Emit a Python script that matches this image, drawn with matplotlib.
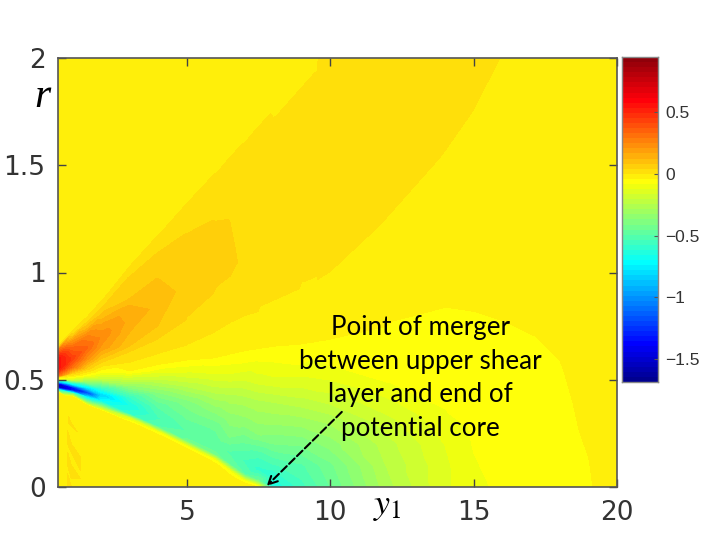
import numpy as np
import matplotlib
matplotlib.use("Agg")
import matplotlib.pyplot as plt
import matplotlib.tri as mtri
from matplotlib.colors import ListedColormap

plt.rcParams['mathtext.fontset'] = 'stix'

# field, one profile per y1 station
y1_stations = [0.5, 0.78, 0.92, 1, 1.5, 2, 3, 4, 5, 6, 6.5, 7, 7.5, 8, 9, 9.53, 10, 12, 14, 15, 16.1, 17, 18, 19, 20]
r_profiles = [
    [0, .44, .452, .465, .48, .49, .50, .51, .52, .55, .6, .63, .65, .66, 1.0, 2],
    [0, .1, .2, .3, .37, .42],
    [0, .1, .2, .3, .37, .42],
    [0, .1, .2, .3, .37, .42, .435, .45, .465, .48, .5, .515, .53, .56, .6, .64, .68, .7, .72, .73, 1.2, 2],
    [0, .1, .2, .3, .38, .395, .42, .44, .46, .49, .52, .55, .6, .65, .7, .74, .77, .8, 1.4, 2],
    [0, .355, .37, .40, .43, .46, .50, .53, .56, .6, .65, .7, .75, .8, .84, .875, 1.5, 2],
    [0, .30, .32, .34, .38, .42, .47, .50, .54, .58, .63, .655, .72, .78, .85, .88, .985, 1.03, 1.06, 2],
    [0, .24, .256, .28, .32, .38, .44, .5, .54, .57, .62, .69, .75, .85, .98, 1.1, 1.177, 1.2, 2],
    [0, .175, .19, .215, .26, .33, .4, .47, .53, .59, .66, .78, .95, 1.1, 1.19, 1.30, 1.327, 1.36, 2],
    [0, .105, .125, .15, .2, .28, .36, .44, .52, .6, .72, .9, 1.1, 1.26, 1.47, 1.5, 2],
    [0, .05, .075, .105, .16, .24, .33, .42, .51, .615, .76, .95, 1.1, 1.27, 1.3, 1.4, 1.55, 1.58, 2],
    [0, .015, .03, .06, .12, .2, .3, .4, .5, .6, .63, .79, 1.0, 1.2, 1.4, 1.62, 1.65, 2],
    [0, .03, .08, .15, .25, .4, .5, .6, .64, .81, 1.2, 1.7, 1.73, 2],
    [0, .05, .1, .2, .3, .4, .5, .6, .65, .84, 1.2, 1.77, 1.80, 2],
    [0, .1, .2, .3, .4, .5, .6, .66, .9, 1.4, 1.92, 1.95, 2],
    [.67, .93, 1.4, 2],
    [0, .1, .2, .3, .4, .5, .56, .68, .97, 1.4, 2],
    [0, .1, .2, .3, .4, .48, .74, 1.22, 1.6, 2],
    [0, .1, .2, .35, .81, 1.1, 1.52, 1.8, 2],
    [0, .14, .3, .79, 1.1, 1.71, 2],
    [0, .5, .74, 1.0, 2],
    [0, .4, .68, .95, 2],
    [0, .3, .55, .85, 2],
    [0, .1, .25, .5, 2],
    [0, 2],
]
w_profiles = [
    [.02, .02, -.6, -1.55, -1.5, -.9, -.1, .03, .35, .6, .6, .4, .1, .03, .02, .02],
    [.02, .02, .02, .02, .02, .02],
    [.08, .08, .08, .06, .041, .02],
    [.02, .02, .02, .02, .02, .02, -.4, -1.3, -1.3, -.7, -.15, 0, .1, .35, .48, .4, .25, .12, .06, .03, .02, .02],
    [.02, .02, .02, .02, .02, -.3, -.75, -1.2, -.8, -.3, -.03, .1, .28, .38, .3, .15, .07, .03, .02, .02],
    [.02, .02, -.2, -.65, -.8, -.55, -.2, -.05, .04, .13, .24, .28, .22, .13, .07, .03, .02, .02],
    [.02, .02, -.1, -.55, -.62, -.53, -.3, -.17, 0, .041, .082, .123, .165, .19, .165, .123, .082, .041, .02, .02],
    [.02, .02, -.05, -.45, -.5, -.44, -.33, -.17, -.06, 0, .041, .082, .123, .155, .123, .082, .041, .02, .02],
    [.02, .02, -.05, -.4, -.45, -.4, -.34, -.2, -.09, 0, .041, .082, .105, .1, .082, .05, .041, .02, .02],
    [.02, .02, -.05, -.4, -.44, -.4, -.31, -.2, -.09, 0, .041, .082, .095, .082, .041, .02, .02],
    [.02, .02, -.05, -.42, -.46, -.36, -.3, -.22, -.1, 0, .041, .082, .09, .082, .075, .06, .041, .02, .02],
    [.02, .02, -.05, -.45, -.5, -.42, -.31, -.23, -.12, -.02, 0, .041, .078, .07, .06, .041, .02, .02],
    [0, -.4, -.55, -.48, -.32, -.21, -.1, -.03, 0, .041, .065, .041, .02, .02],
    [-.62, -.58, -.5, -.37, -.28, -.2, -.09, -.03, 0, .041, .06, .041, .02, .02],
    [-.51, -.46, -.36, -.27, -.18, -.09, -.02, 0, .041, .055, .041, .02, .02],
    [0, .041, .055, .041],
    [-.41, -.38, -.31, -.24, -.15, -.08, -.041, 0, .041, .06, .055],
    [-.22, -.2, -.18, -.14, -.09, -.041, 0, .041, .055, .06],
    [-.09, -.09, -.08, -.041, 0, .015, .041, .05, .055],
    [-.05, -.041, -.03, 0, .015, .041, .05],
    [-.03, -.015, 0, .012, .041],
    [-.02, -.015, 0, .012, .03],
    [-.012, -.006, 0, .01, .02],
    [-.002, 0, .005, .01, .02],
    [.02, .02],
]

xticks = [5, 10, 15, 20]
yticks = [0, 0.5, 1, 1.5, 2]
yticklabels = ['0', '0.5', '1', '1.5', '2']
cticks = [0.5, 0, -0.5, -1, -1.5]
cticklabels = ['0.5', '0', '\u22120.5', '\u22121', '\u22121.5']
clim = (-1.686, 0.948)
note = 'Point of merger\nbetween upper shear\nlayer and end of\npotential core'

# same jet as matlab, 64 steps
i = np.arange(1, 65)
jet64 = np.column_stack([
    np.interp(i, [24, 40, 56, 64], [0, 1, 1, 0.5625]),
    np.interp(i, [8, 24, 40, 56], [0, 1, 1, 0]),
    np.interp(i, [1, 8, 24, 40], [0.5625, 1, 1, 0]),
])
jet64[:, 2] = np.maximum(jet64[:, 2], 0.04)
cmap = ListedColormap(jet64)
levels = np.linspace(clim[0], clim[1], 65)

x = np.concatenate([[s] * len(p) for s, p in zip(y1_stations, r_profiles)]).astype(float)
r = np.concatenate(r_profiles).astype(float)
# profiles were read one colour step high
w = np.concatenate(w_profiles).astype(float) - (levels[1] - levels[0])

# delaunay in ray coords from the lip so the contours stay along the rays
tris = mtri.Triangulation(x * 0.04, (r - 0.5) / (x + 0.425)).triangles
area = np.abs((x[tris[:, 1]] - x[tris[:, 0]]) * (r[tris[:, 2]] - r[tris[:, 0]])
              - (x[tris[:, 2]] - x[tris[:, 0]]) * (r[tris[:, 1]] - r[tris[:, 0]]))
tri = mtri.Triangulation(x, r, tris[area > 1e-9])

W, H = 720, 540
fig = plt.figure(figsize=(7.2, 5.4), dpi=100)
ax = fig.add_axes([58 / W, 1 - 487 / H, (617 - 58) / W, (487 - 58) / H])
ax.tricontourf(tri, w, levels=levels, cmap=cmap, vmin=clim[0], vmax=clim[1], extend='both')

ax.set_xlim(0.5, 20)
ax.set_ylim(0, 2)
ax.set_xticks(xticks)
ax.set_yticks(yticks)
ax.set_yticklabels(yticklabels)
ax.tick_params(direction='in', length=6, width=1, color='#444444', top=True, right=True,
               labelsize=19, labelcolor='#333333', pad=9)
for s in ax.spines.values():
    s.set_color('#555555')
    s.set_linewidth(1.2)

ax.text(-0.06, 1.82, 'r', family='Liberation Serif', style='italic', fontsize=30, color='black',
        ha='center', va='center', clip_on=False)
ax.text(12.0, -0.09, '$y_1$', fontsize=26, color='black', ha='center', va='center', clip_on=False)
ax.text(13.15, 0.508, note, family='Lato', fontsize=18.7, color='black', ha='center', va='center',
        linespacing=1.42, zorder=5)
ax.annotate('', xy=(7.78, 0.005), xytext=(10.4, 0.35),
            arrowprops=dict(arrowstyle='->', linestyle='--', color='black', lw=1.5,
                            shrinkA=0, shrinkB=0, mutation_scale=16))

cax = fig.add_axes([621.5 / W, 1 - 382 / H, (658 - 621.5) / W, (382 - 57) / H])
grad = np.linspace(clim[0], clim[1], 65)
cax.pcolormesh([0, 1], grad, (grad[:-1] + grad[1:]).reshape(-1, 1) / 2, cmap=cmap,
               vmin=clim[0], vmax=clim[1])
cax.set_xticks([])
cax.yaxis.tick_right()
cax.set_yticks(cticks)
cax.set_yticklabels(cticklabels, family='Liberation Sans')
cax.tick_params(axis='y', direction='in', length=3, width=0.8, color='#555555',
                labelsize=12.5, labelcolor='#333333', pad=5)
for s in cax.spines.values():
    s.set_color('#888888')
    s.set_linewidth(1)

fig.savefig('out.png', dpi=100)
plt.close(fig)
